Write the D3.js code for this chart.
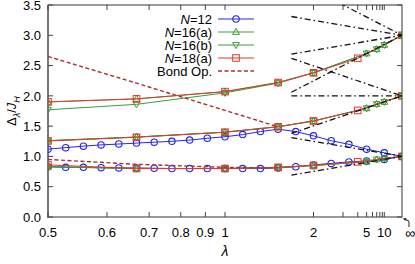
<!DOCTYPE html>
<html>
<head>
<meta charset="utf-8">
<script src="https://cdn.jsdelivr.net/npm/d3@7"></script>
<style>
  body { margin: 0; background: #fff; }
  svg { font-family: "Liberation Sans", Arial, sans-serif; }
</style>
</head>
<body>
<svg id="chart" width="415" height="264"></svg>
<script>
// x positions are given as 1/lambda (0 means lambda = infinity)
var invLam12 = [2.0, 1.9, 1.8, 1.7, 1.6, 1.5, 1.4, 1.3, 1.2, 1.1, 1.0,
                0.9, 0.8, 0.7, 0.6, 0.5, 0.4, 0.3, 0.2, 0.1, 0.0];
var n12Upper = [1.12, 1.145, 1.17, 1.19, 1.205, 1.22, 1.235, 1.25, 1.27, 1.30, 1.325,
                1.36, 1.41, 1.45, 1.41, 1.34, 1.26, 1.20, 1.12, 1.06, 1.00];
var n12Lower = [0.83, 0.82, 0.82, 0.815, 0.81, 0.81, 0.805, 0.80, 0.80, 0.80, 0.80,
                0.80, 0.80, 0.81, 0.83, 0.86, 0.885, 0.91, 0.925, 0.95, 1.00];

var invLam16 = [2.0, 1.5, 1.0, 0.7, 0.5, 0.2, 0.143, 0.1, 0.0];
var n16aUpper = [1.90, 1.95, 2.07, 2.22, 2.38, 2.70, 2.77, 2.84, 3.00];
var n16aMid   = [1.26, 1.32, 1.40, 1.49, 1.585, 1.795, 1.865, 1.90, 2.00];
var n16aLower = [0.83, 0.80, 0.80, 0.82, 0.85, 0.913, 0.95, 0.97, 1.00];
var n16bUpper = [1.77, 1.86, 2.05, 2.21, 2.38, 2.70, 2.77, 2.84, 3.00];
var n16bMid   = [1.26, 1.32, 1.40, 1.49, 1.585, 1.795, 1.865, 1.90, 2.00];
var n16bLower = [0.83, 0.80, 0.80, 0.82, 0.85, 0.913, 0.95, 0.97, 1.00];

var invLam18 = [2.0, 1.5, 1.0, 0.7, 0.5, 0.25, 0.0];
var n18Upper = [1.90, 1.95, 2.07, 2.22, 2.38, 2.62, 3.00];
var n18Mid   = [1.255, 1.316, 1.40, 1.49, 1.585, 1.76, 2.00];
var n18Lower = [0.86, 0.80, 0.80, 0.82, 0.85, 0.91, 1.00];

var invLamBond = [2.0, 1.5, 1.0, 0.7];
var bondUpper = [2.65, 2.21, 1.76, 1.49];
var bondLower = [0.95, 0.87, 0.82, 0.81];

// dash-dot asymptotes: value at 1/lambda = 0.625 and at lambda = infinity
var asymStart = 0.625;
var asymFrom = [3.31, 2.69, 3.94, 2.06, 2.62, 2.00, 1.38, 1.31, 0.69];
var asymTo   = [3.0, 3.0, 3.0, 3.0, 2.0, 2.0, 2.0, 1.0, 1.0];

var xTickLam = [0.5, 0.6, 0.7, 0.8, 0.9, 1, 2, 3, 4, 5, 6, 7, 8, 9, 10];
var xTickLabels = ["0.5", "0.6", "0.7", "0.8", "0.9", "1", "2", "", "", "5", "", "", "", "", "10"];
var yTicks = [0, 0.5, 1, 1.5, 2, 2.5, 3, 3.5];

var legendNames = ["12", "16(a)", "16(b)", "18(a)"];

var blue = "#2424f0", green = "#3a9d3a", red = "#e8352a", bond = "#a83232";

var svg = d3.select("#chart");
var L = 48, R = 402, T = 5, B = 217;

var x = d3.scaleLinear().domain([-2, 0]).range([L, R]);
var y = d3.scaleLinear().domain([0, 3.5]).range([B, T]);
function xl(lam) { return x(-1 / lam); }

svg.append("defs").append("clipPath").attr("id", "clip")
    .append("rect").attr("x", L).attr("y", T).attr("width", R - L).attr("height", B - T);

// frame + ticks
svg.append("rect").attr("x", L).attr("y", T).attr("width", R - L).attr("height", B - T)
    .attr("fill", "none").attr("stroke", "#333").attr("stroke-width", 1);
svg.append("line").attr("x1", L).attr("x2", L).attr("y1", T).attr("y2", B + 1)
    .attr("stroke", "#777").attr("stroke-width", 2);

yTicks.forEach(function (v) {
    svg.append("line").attr("x1", L).attr("x2", L + 5).attr("y1", y(v)).attr("y2", y(v)).attr("stroke", "#444");
    svg.append("line").attr("x1", R - 5).attr("x2", R).attr("y1", y(v)).attr("y2", y(v)).attr("stroke", "#444");
    svg.append("text").attr("x", 41).attr("y", y(v)).attr("dy", "0.36em")
        .attr("text-anchor", "end").attr("font-size", 13).text(v.toFixed(1));
});

xTickLam.forEach(function (lam, i) {
    var px = xl(lam);
    svg.append("line").attr("x1", px).attr("x2", px).attr("y1", B).attr("y2", B - 5).attr("stroke", "#444");
    svg.append("line").attr("x1", px).attr("x2", px).attr("y1", T).attr("y2", T + 5).attr("stroke", "#444");
    if (xTickLabels[i] !== "") {
        svg.append("text").attr("x", px).attr("y", 237)
            .attr("text-anchor", "middle").attr("font-size", 13).text(xTickLabels[i]);
    }
});
svg.append("text").attr("x", 410).attr("y", 238).attr("text-anchor", "middle")
    .attr("font-size", 14).text("\u221e");
// little arrow pointing at the infinity end
svg.append("path").attr("d", "M409,227 L409,222 Q409,220 406,220")
    .attr("fill", "none").attr("stroke", "#222").attr("stroke-width", 1);
svg.append("path").attr("d", "M403,218 L407,218.5 L405,221 Z").attr("fill", "#222");

// axis labels
svg.append("text").attr("x", 225).attr("y", 256).attr("text-anchor", "middle")
    .attr("font-size", 14).attr("font-style", "italic").text("\u03bb");
var yl = svg.append("text").attr("transform", "translate(16,111) rotate(-90)")
    .attr("text-anchor", "middle").attr("font-size", 13);
yl.append("tspan").text("\u0394");
yl.append("tspan").attr("font-size", 9).attr("font-style", "italic").attr("dy", 4).text("\u03bb");
yl.append("tspan").attr("dy", -4).text("/");
yl.append("tspan").attr("font-style", "italic").text("J");
yl.append("tspan").attr("font-size", 9).attr("font-style", "italic").attr("dy", 4).text("H");

var plot = svg.append("g").attr("clip-path", "url(#clip)");

var line = d3.line()
    .x(function (d) { return x(-d[0]); })
    .y(function (d) { return y(d[1]); });

function pairs(xs, ys) { return xs.map(function (v, i) { return [v, ys[i]]; }); }

function drawMarker(g, type, px, py, color) {
    if (type === "circle") {
        g.append("circle").attr("cx", px).attr("cy", py).attr("r", 3.2)
            .attr("fill", "none").attr("stroke", color).attr("stroke-width", 1.1);
    } else if (type === "square") {
        g.append("rect").attr("x", px - 3.3).attr("y", py - 3.3).attr("width", 6.6).attr("height", 6.6)
            .attr("fill", "none").attr("stroke", color).attr("stroke-width", 1);
    } else {
        var s = type === "up" ? 1 : -1;
        g.append("path")
            .attr("d", "M" + px + "," + (py - 3.6 * s) + " L" + (px + 3.4) + "," + (py + 2.4 * s) +
                  " L" + (px - 3.4) + "," + (py + 2.4 * s) + " Z")
            .attr("fill", "none").attr("stroke", color).attr("stroke-width", 1);
    }
}

function drawSeries(xs, branches, color, type) {
    branches.forEach(function (ys) {
        var pts = pairs(xs, ys);
        plot.append("path").attr("d", line(pts)).attr("fill", "none")
            .attr("stroke", color).attr("stroke-width", 1);
        pts.forEach(function (p) { drawMarker(plot, type, x(-p[0]), y(p[1]), color); });
    });
}

drawSeries(invLam12, [n12Upper, n12Lower], blue, "circle");
drawSeries(invLam16, [n16aUpper, n16aMid, n16aLower], green, "up");
drawSeries(invLam16, [n16bUpper, n16bMid, n16bLower], green, "down");
drawSeries(invLam18, [n18Upper, n18Mid, n18Lower], red, "square");

[bondUpper, bondLower].forEach(function (ys) {
    plot.append("path").attr("d", line(pairs(invLamBond, ys))).attr("fill", "none")
        .attr("stroke", bond).attr("stroke-width", 1.4).attr("stroke-dasharray", "4,2.5");
});

asymFrom.forEach(function (v, i) {
    plot.append("path").attr("d", line([[asymStart, v], [0, asymTo[i]]]))
        .attr("fill", "none").attr("stroke", "#111").attr("stroke-width", 1.3)
        .attr("stroke-dasharray", "6,3,1.5,3");
});

// legend
var legendColors = [blue, green, green, red];
var legendTypes = ["circle", "up", "down", "square"];
var lg = svg.append("g");
legendNames.forEach(function (name, i) {
    var ly = 19 + i * 13;
    var t = lg.append("text").attr("x", 212).attr("y", ly).attr("dy", "0.36em")
        .attr("text-anchor", "end").attr("font-size", 13);
    t.append("tspan").attr("font-style", "italic").text("N");
    t.append("tspan").text("=" + name);
    lg.append("line").attr("x1", 218).attr("x2", 254).attr("y1", ly).attr("y2", ly)
        .attr("stroke", legendColors[i]).attr("stroke-width", 1);
    drawMarker(lg, legendTypes[i], 236, ly, legendColors[i]);
});
lg.append("text").attr("x", 212).attr("y", 19 + 4 * 13).attr("dy", "0.36em")
    .attr("text-anchor", "end").attr("font-size", 13).text("Bond Op.");
lg.append("line").attr("x1", 218).attr("x2", 254).attr("y1", 71).attr("y2", 71)
    .attr("stroke", bond).attr("stroke-width", 1.4).attr("stroke-dasharray", "4,2.5");
</script>
</body>
</html>
